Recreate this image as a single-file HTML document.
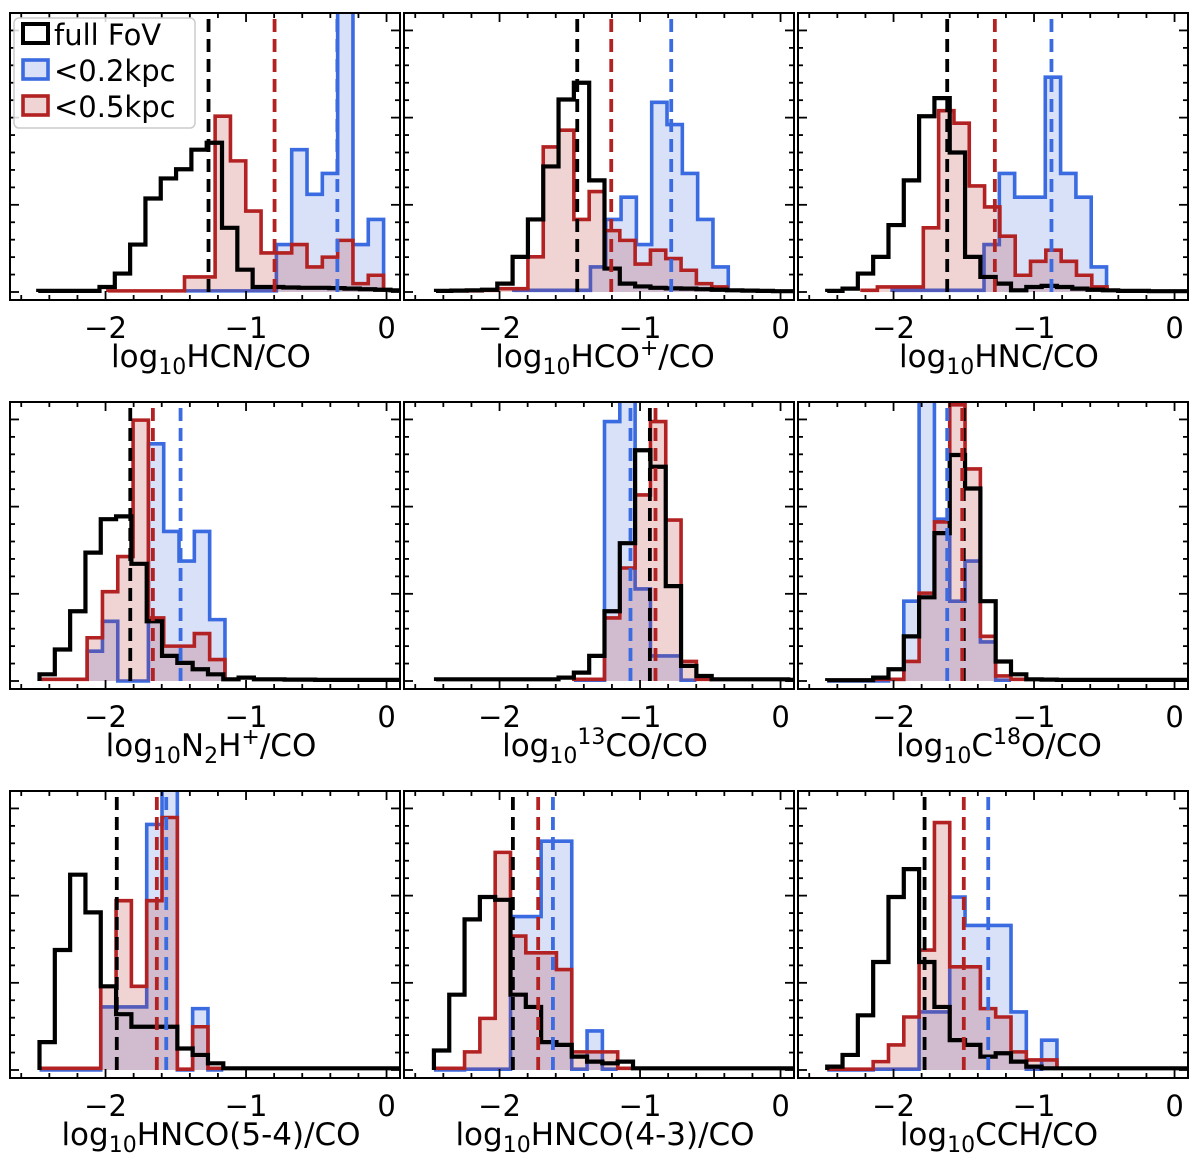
<!DOCTYPE html>
<html><head><meta charset="utf-8"><style>
html,body{margin:0;padding:0;background:#fff;}
svg{display:block;font-family:"DejaVu Sans","Liberation Sans",sans-serif;}
</style></head><body>
<svg id="fig" width="1200" height="1160" viewBox="0 0 1200 1160" xmlns="http://www.w3.org/2000/svg"></svg>
<script>
// ---- data (bin width shared, each series: start edge + counts) ----
const binWidth = 0.109;
const xTicks = [-2, -1, 0];
const xTickLabels = ["\u22122", "\u22121", "0"];

const hcnBlackStart = -2.479;
const hcnBlack = [0.4,0.4,0.4,0.4,1.8,6.6,17,33.5,40.7,44,51,53.5,23,8,1.8,1.8,1.6,1.5,1.5,1.4,1.2,1.0,0.8,0.6];
const hcnRedStart = -1.983;
const hcnRed = [0.4,0.4,0.4,0.4,0.4,5.4,5.4,63,47,29,14,14,17,9,12.5,18.5,3,6];
const hcnBlueStart = -1.438;
const hcnBlue = [0.4,0.4,0.4,0.4,0.4,0.4,17,51,35,42.5,130,17,26];
const hcnMedians = [-1.267, -0.797, -0.35];

const hcopBlackStart = -2.452;
const hcopBlack = [0.4,0.5,0.6,0.8,3,12.6,26,45,69,75,40,8.4,3,2,1.5,1.3,1.2,1.0,0.8,0.6,0.5,0.4,0.3,0.3];
const hcopRedStart = -2.234;
const hcopRed = [0.4,0.6,1.2,1.2,12.6,52,58,26,36,22,18.5,10,15,12,7.8,3,1.8];
const hcopBlueStart = -1.898;
const hcopBlue = [0.6,0.6,0.6,0.6,0.6,9,26,34,17,68,60,42.5,26,9];
const hcopMedians = [-1.447, -1.205, -0.778];

const hncBlackStart = -2.472;
const hncBlack = [0.4,1.2,6.6,12.6,24,40,63,69.5,50,12.6,5.4,3,0.6,1.8,2.2,1.8,1.2,0.8,0.6,0.4,0.4,0.3,0.3,0.3];
const hncRedStart = -2.224;
const hncRed = [0.6,1.8,1.8,1.8,23,65,60.5,38,30.5,20,6,11,15,11,6,1.8];
const hncBlueStart = -2.01;
const hncBlue = [0.6,0.6,0.6,0.6,0.6,0.6,17,42.5,34,34,77,42.5,34,9];
const hncMedians = [-1.618, -1.279, -0.876];

const n2hpBlackStart = -2.47;
const n2hpBlack = [2.4,11.3,25,46,58,59,42,21.4,9,6.5,4.2,2.4,0.6,1.2,0.6,0.6,0.5,0.5,0.4,0.4,0.4,0.4,0.4,0.4];
const n2hpRedStart = -2.458;
const n2hpRed = [0.6,0.6,0.6,15.5,32,44.6,93.5,22.6,12.5,12.5,17,7.7];
const n2hpBlueStart = -2.131;
const n2hpBlue = [10.7,21.4,0,0,85,53.6,43,53.6,22];
const n2hpMedians = [-1.824, -1.663, -1.466];

const c13oBlackStart = -2.452;
const c13oBlack = [0.6,0.6,0.6,0.6,0.6,0.6,0.6,0.6,1.2,3,9,25,49.4,82.7,76.8,34,5.4,1.8,0.6,0.6,0.6,0.6,0.6,0.4];
const c13oRedStart = -1.471;
const c13oRed = [0.6,0.6,22.6,40.5,66.7,93,57.7,7,0.6];
const c13oBlueStart = -1.471;
const c13oBlue = [0.3,0.3,93,120,33,9,9,0.3];
const c13oMedians = [-0.930, -0.890, -1.068];

const c18oBlackStart = -2.472;
const c18oBlack = [0.3,0.3,0.3,1.2,4.2,16,30,53,81,69,28.6,7,2.4,0.6,0.5,0.4,0.4,0.4,0.4,0.4,0.4,0.4,0.4,0.4];
const c18oRedStart = -2.472;
const c18oRed = [0.3,0.3,0.3,0.6,0.6,7,31.5,57,99,76,16,1.8,0.6];
const c18oBlueStart = -2.472;
const c18oBlue = [0,0,0,0,0.6,28.6,130,58,28.6,43,14,0.3];
const c18oMedians = [-1.50, -1.511, -1.618];

const hnco54BlackStart = -2.47;
const hnco54Black = [10,43,70,56.5,30,20,15.5,15.5,15.5,7.7,5.4,2.4,0.6,0.6,0.6,0.6,0.6,0.6,0.6,0.6,0.6,0.6,0.6,0.6];
const hnco54RedStart = -2.47;
const hnco54Red = [0.6,0.6,0.6,0.6,30,60.7,30,60.7,90.5,0.3,15.5,0.6];
const hnco54BlueStart = -2.47;
const hnco54Blue = [0,0,0,0,22.6,22.6,22.6,88,130,0,22,0];
const hnco54Medians = [-1.92, -1.635, -1.568];

const hnco43BlackStart = -2.467;
const hnco43Black = [7,27,54,62,61,27,22.6,10,9,4.8,3,2.4,3,0.6,0.6,0.6,0.6,0.6,0.6,0.6,0.6,0.6,0.6,0.6];
const hnco43RedStart = -2.467;
const hnco43Red = [0.6,0.6,6.5,18.5,78,48,42,42,36,6.5,6.5,6.5,0.6];
const hnco43BlueStart = -2.467;
const hnco43Blue = [0,0,0.3,0.3,0.3,55,55,82,82,0.3,14,0.3];
const hnco43Medians = [-1.905, -1.725, -1.62];

const cchBlackStart = -2.472;
const cchBlack = [1.2,5.4,19.6,38.7,62,72,38.7,22.6,10.7,9,4.8,6,3,1.2,0.6,0.6,0.6,0.6,0.6,0.6,0.6,0.6,0.6,0.6];
const cchRedStart = -2.472;
const cchRed = [0.3,0.3,0.3,3,9,19,43,88.7,37,37,22,19,6.5,3.6,3.6];
const cchBlueStart = -2.472;
const cchBlue = [0,0,0,0.3,0.3,0.3,20.8,20.8,62,51.8,51.8,51.8,20.8,0.3,10.7];
const cchMedians = [-1.779, -1.5, -1.326];

const panelNames = ["hcn","hco-plus","hnc","n2h-plus","13co","c18o","hnco-5-4","hnco-4-3","cch"];
const panelSeries = [
  [[hcnBlackStart,hcnBlack],[hcnBlueStart,hcnBlue],[hcnRedStart,hcnRed],hcnMedians],
  [[hcopBlackStart,hcopBlack],[hcopBlueStart,hcopBlue],[hcopRedStart,hcopRed],hcopMedians],
  [[hncBlackStart,hncBlack],[hncBlueStart,hncBlue],[hncRedStart,hncRed],hncMedians],
  [[n2hpBlackStart,n2hpBlack],[n2hpBlueStart,n2hpBlue],[n2hpRedStart,n2hpRed],n2hpMedians],
  [[c13oBlackStart,c13oBlack],[c13oBlueStart,c13oBlue],[c13oRedStart,c13oRed],c13oMedians],
  [[c18oBlackStart,c18oBlack],[c18oBlueStart,c18oBlue],[c18oRedStart,c18oRed],c18oMedians],
  [[hnco54BlackStart,hnco54Black],[hnco54BlueStart,hnco54Blue],[hnco54RedStart,hnco54Red],hnco54Medians],
  [[hnco43BlackStart,hnco43Black],[hnco43BlueStart,hnco43Blue],[hnco43RedStart,hnco43Red],hnco43Medians],
  [[cchBlackStart,cchBlack],[cchBlueStart,cchBlue],[cchRedStart,cchRed],cchMedians]
];
// x-label pieces: [text, mode] mode: n normal, b sub, p sup
const panelLabels = [
  [["log","n"],["10","b"],["HCN/CO","n"]],
  [["log","n"],["10","b"],["HCO","n"],["+","p"],["/CO","n"]],
  [["log","n"],["10","b"],["HNC/CO","n"]],
  [["log","n"],["10","b"],["N","n"],["2","b"],["H","n"],["+","p"],["/CO","n"]],
  [["log","n"],["10","b"],["13","p"],["CO/CO","n"]],
  [["log","n"],["10","b"],["C","n"],["18","p"],["O/CO","n"]],
  [["log","n"],["10","b"],["HNCO(5-4)/CO","n"]],
  [["log","n"],["10","b"],["HNCO(4-3)/CO","n"]],
  [["log","n"],["10","b"],["CCH/CO","n"]]
];

// ---- layout ----
const NS = "http://www.w3.org/2000/svg";
const svg = document.getElementById("fig");
const colX = [10, 404, 798], rowY = [13, 402, 791];
const axW = 390, axH = 287, baseOff = 279, xMin = -2.68, pxPerX = 140.5, pxPerY = 2.79;
const colors = ["#000000", "#3b6be0", "#b22222"];
const fills = ["none", "rgba(65,105,225,0.2)", "rgba(178,34,34,0.2)"];
const seriesNames = ["full-fov", "within-0.2kpc", "within-0.5kpc"];
const medianColors = ["#000000", "#b22222", "#3b6be0"];
const medianNames = ["full-fov", "within-0.5kpc", "within-0.2kpc"];

function mk(tag, attrs, parent) {
  const e = document.createElementNS(NS, tag);
  for (const k in attrs) e.setAttribute(k, attrs[k]);
  parent.appendChild(e);
  return e;
}

panelSeries.forEach((ps, i) => {
  const x0 = colX[i % 3], y0 = rowY[Math.floor(i / 3)];
  const xs = v => x0 + (v - xMin) * pxPerX;
  const ys = h => y0 + baseOff - h * pxPerY;
  const g = mk("g", {}, svg);
  
  
  const defs = mk("defs", {}, g);
  const cp = mk("clipPath", { id: "clip" + i }, defs);
  mk("rect", { x: x0, y: y0, width: axW, height: axH }, cp);
  const plot = mk("g", { "clip-path": "url(#clip" + i + ")" }, g);
  const order = [1, 2, 0];
  order.forEach(s => {
    const [start, counts] = ps[s];
    let d = "M" + xs(start) + "," + ys(0);
    counts.forEach((c, k) => {
      const a = xs(start + k * binWidth), b = xs(start + (k + 1) * binWidth);
      d += " L" + a + "," + ys(c) + " L" + b + "," + ys(c);
    });
    d += " L" + xs(start + counts.length * binWidth) + "," + ys(0);
    const p = mk("path", { d: d, fill: fills[s], stroke: colors[s], "stroke-width": s === 0 ? 4.2 : 3.6, "stroke-linejoin": "miter" }, plot);
    
    
  });
  ps[3].forEach((m, s) => {
    const l = mk("line", { x1: xs(m), x2: xs(m), y1: y0 + 6, y2: y0 + axH, stroke: medianColors[s], "stroke-width": 3.8, "stroke-dasharray": "13,7" }, plot);
    
    
  });
  const tk = mk("g", { stroke: "#000", "stroke-width": 1.8 }, g);
  for (let v = -2.6; v <= 0.1; v += 0.2) {
    const vv = Math.round(v * 10) / 10;
    const major = Math.abs(vv - Math.round(vv)) < 1e-6;
    const L = major ? 9 : 5;
    const x = xs(vv);
    mk("line", { x1: x, x2: x, y1: y0 + axH, y2: y0 + axH - L }, tk);
    mk("line", { x1: x, x2: x, y1: y0, y2: y0 + L }, tk);
  }
  for (let k = 0; ys(k * 6.25) > y0; k++) {
    const y = ys(k * 6.25);
    const L = k % 5 === 0 ? 9 : 5;
    mk("line", { x1: x0, x2: x0 + L, y1: y, y2: y }, tk);
    mk("line", { x1: x0 + axW, x2: x0 + axW - L, y1: y, y2: y }, tk);
  }
  const fr = mk("rect", { x: x0, y: y0, width: axW, height: axH, fill: "none", stroke: "#000", "stroke-width": 2 }, g);
  
  
  xTicks.forEach((t, k) => {
    const tx = mk("text", { x: xs(t), y: y0 + 325, "font-size": 29, "text-anchor": "middle", fill: "#000" }, g);
    tx.textContent = xTickLabels[k];
    
    
  });
  const lab = mk("text", { x: x0 + axW / 2 + 6, y: y0 + 354, "font-size": 31, "text-anchor": "middle", fill: "#000" }, g);
  
  
  let cur = 0;
  panelLabels[i].forEach(([t, m]) => {
    const target = m === "b" ? 7 : (m === "p" ? -12 : 0);
    const ts = mk("tspan", { dy: target - cur, "font-size": m === "n" ? 31 : 22 }, lab);
    cur = target;
    ts.textContent = t;
  });
});
</script>
<svg style="position:absolute;left:0;top:0" width="200" height="135" xmlns="http://www.w3.org/2000/svg" font-family="DejaVu Sans, Liberation Sans, sans-serif">
  <rect x="14" y="18" width="181" height="110" rx="5" fill="rgba(255,255,255,0.85)" stroke="#cccccc" stroke-width="1.5"/>
  <g>
    <rect x="23" y="24" width="25" height="19" fill="none" stroke="#000" stroke-width="4"/>
    <text x="54" y="45" font-size="29">full FoV</text>
  </g>
  <g>
    <rect x="23" y="60" width="25" height="19" fill="rgba(65,105,225,0.2)" stroke="#3b6be0" stroke-width="3.6"/>
    <text x="54" y="81" font-size="29">&lt;0.2kpc</text>
  </g>
  <g>
    <rect x="23" y="96" width="25" height="19" fill="rgba(178,34,34,0.2)" stroke="#b22222" stroke-width="3.6"/>
    <text x="54" y="117" font-size="29">&lt;0.5kpc</text>
  </g>
</svg>
</body></html>
